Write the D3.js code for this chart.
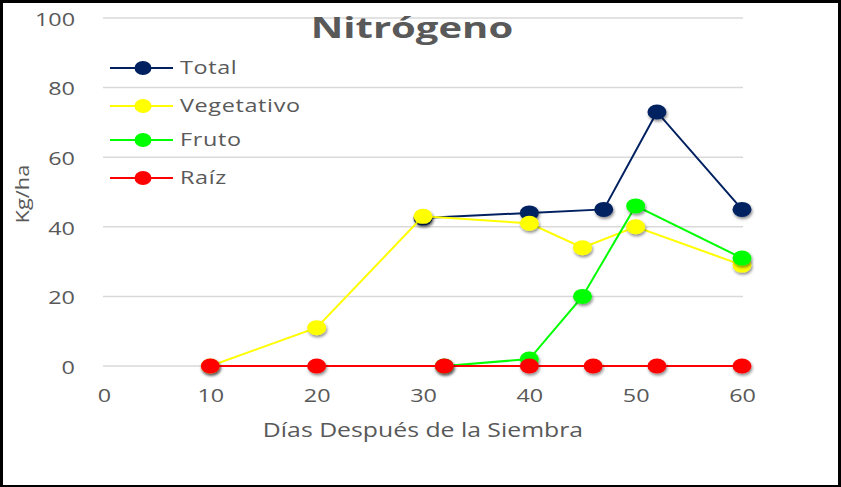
<!DOCTYPE html>
<html><head><meta charset="utf-8">
<script src="https://cdn.jsdelivr.net/npm/d3@7"></script>
<style>body{margin:0;background:#000}svg{display:block}</style>
</head><body>
<script>
const title = "Nitrógeno";
const xLabel = "Días Después de la Siembra";
const yLabel = "Kg/ha";
const xTicks = [0, 10, 20, 30, 40, 50, 60];
const yTicks = [0, 20, 40, 60, 80, 100];
const seriesNames = ["Total", "Vegetativo", "Fruto", "Raíz"];
const seriesColors = ["#002060", "#FFFF00", "#00FF00", "#FF0000"];
const totalDays = [30, 40, 47, 52, 60];
const totalVals = [42.5, 44, 45, 73, 45];
const vegDays = [10, 20, 30, 40, 45, 50, 60];
const vegVals = [0, 11, 43, 41, 34, 40, 29];
const frutoDays = [32, 40, 45, 50, 60];
const frutoVals = [0, 2, 20, 46, 31];
const raizDays = [10, 20, 32, 40, 46, 52, 60];
const raizVals = [0, 0, 0, 0, 0, 0, 0];

const W = 841, H = 487;
const svg = d3.select("body").append("svg").attr("width", W).attr("height", H);
svg.append("rect").attr("width", W).attr("height", H).attr("fill", "#000");
svg.append("rect").attr("x", 3).attr("y", 3).attr("width", 835).attr("height", 482).attr("fill", "#fff");

const defs = svg.append("defs");
const f = defs.append("filter").attr("id", "sh").attr("x", "-50%").attr("y", "-50%").attr("width", "200%").attr("height", "200%");
f.append("feDropShadow").attr("dx", 1).attr("dy", 2).attr("stdDeviation", 1.5).attr("flood-color", "#000").attr("flood-opacity", 0.45);

const x = d3.scaleLinear().domain([0, 60]).range([104, 742]);
const y = d3.scaleLinear().domain([0, 100]).range([366, 18]);
const grey = "#595959";
const font = "'Open Sans', sans-serif";
const SX = 1.3;

// gridlines
svg.append("g").selectAll("line").data(yTicks).join("line")
  .attr("x1", 103).attr("x2", 743).attr("y1", d => y(d)).attr("y2", d => y(d))
  .attr("stroke", "#d9d9d9").attr("stroke-width", 1.5);

// axes (text only)
const yAxis = svg.append("g").attr("transform", "translate(75,0)")
  .call(d3.axisLeft(y).tickValues(yTicks).tickSize(0).tickPadding(0));
yAxis.select(".domain").remove();
yAxis.selectAll("text").attr("font-family", font).attr("font-size", 18).attr("fill", grey)
  .attr("x", 0).attr("dy", "0.4em").attr("transform", `scale(${SX},1)`);

const xAxis = svg.append("g").attr("transform", "translate(0,402)")
  .call(d3.axisBottom(x).tickValues(xTicks).tickSize(0).tickPadding(0));
xAxis.select(".domain").remove();
xAxis.selectAll("text").attr("font-family", font).attr("font-size", 18).attr("fill", grey)
  .attr("y", 0).attr("dy", 0).attr("transform", `scale(${SX},1)`);

svg.append("text").attr("transform", `translate(423,437) scale(1.24,1)`).attr("text-anchor", "middle")
  .attr("font-family", font).attr("font-size", 20).attr("fill", grey).text(xLabel);
svg.append("text").attr("transform", "translate(29,194) rotate(-90) scale(1.15,1)").attr("text-anchor", "middle")
  .attr("font-family", font).attr("font-size", 19).attr("fill", grey).text(yLabel);

svg.append("text").attr("transform", "translate(412,38) scale(1.43,1)").attr("text-anchor", "middle")
  .attr("font-family", font).attr("font-weight", "bold").attr("font-size", 28).attr("fill", grey).text(title);

const series = [
  {name: seriesNames[0], color: seriesColors[0], days: totalDays, vals: totalVals},
  {name: seriesNames[1], color: seriesColors[1], days: vegDays, vals: vegVals},
  {name: seriesNames[2], color: seriesColors[2], days: frutoDays, vals: frutoVals},
  {name: seriesNames[3], color: seriesColors[3], days: raizDays, vals: raizVals}
];
const line = d3.line().x(d => x(d[0])).y(d => y(d[1]));
series.forEach(s => {
  const pts = s.days.map((d, i) => [d, s.vals[i]]);
  const g = svg.append("g");
  g.append("path").attr("d", line(pts)).attr("fill", "none").attr("stroke", s.color).attr("stroke-width", 2);
  g.selectAll("ellipse").data(pts).join("ellipse")
    .attr("cx", d => x(d[0])).attr("cy", d => y(d[1])).attr("rx", 9.5).attr("ry", 7.5)
    .attr("fill", s.color).attr("filter", "url(#sh)");
});

// legend
const legY = [68, 106, 140, 178];
const leg = svg.append("g");
series.forEach((s, i) => {
  leg.append("line").attr("x1", 110).attr("x2", 173).attr("y1", legY[i]).attr("y2", legY[i])
    .attr("stroke", s.color).attr("stroke-width", 2);
  leg.append("ellipse").attr("cx", 143).attr("cy", legY[i]).attr("rx", 8.5).attr("ry", 7).attr("fill", s.color);
  leg.append("text").attr("transform", `translate(180,${legY[i] + 6}) scale(${SX},1)`)
    .attr("font-family", font).attr("font-size", 18)
    .attr("letter-spacing", 0.5).attr("fill", grey).text(s.name);
});
</script>
</body></html>
